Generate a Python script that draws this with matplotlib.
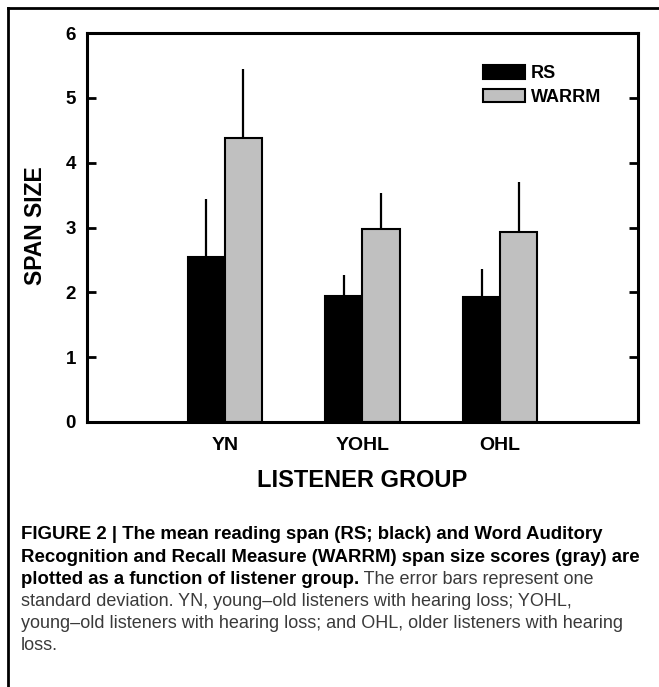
import numpy as np
import matplotlib.pyplot as plt
from matplotlib.lines import Line2D

plt.rcParams['font.family'] = ['Liberation Sans', 'DejaVu Sans']

# data
groups = ['YN', 'YOHL', 'OHL']
rs_mean = [2.55, 1.95, 1.93]
rs_sd = [0.89, 0.32, 0.43]
warrm_mean = [4.38, 2.98, 2.93]
warrm_sd = [1.07, 0.55, 0.77]

W, H = 659, 687
fig = plt.figure(figsize=(W / 100, H / 100), dpi=100)

def fx(px):
    return px / W

def fy(py):
    return 1 - py / H

ax = fig.add_axes([fx(87), fy(422), fx(638) - fx(87), fy(33) - fy(422)])

x = np.arange(1, len(groups) + 1)
w = 0.27
b1 = ax.bar(x - w / 2, rs_mean, w, color='black', edgecolor='black', linewidth=1.5, label='RS', zorder=2)
b2 = ax.bar(x + w / 2, warrm_mean, w, color='#c0c0c0', edgecolor='black', linewidth=1.5, label='WARRM', zorder=2)
ax.errorbar(x - w / 2, rs_mean, yerr=[np.zeros(3), rs_sd], fmt='none', ecolor='black',
            elinewidth=1.6, capsize=0, zorder=1)
ax.errorbar(x + w / 2, warrm_mean, yerr=[np.zeros(3), warrm_sd], fmt='none', ecolor='black',
            elinewidth=1.6, capsize=0, zorder=1)

ax.set_xlim(0, 4)
ax.set_ylim(0, 6)
ax.set_xticks(x)
ax.set_xticklabels(groups, fontsize=14, fontweight='bold')
ax.tick_params(axis='x', length=0, pad=11)
ax.set_yticks(range(7))
ax.set_yticklabels([str(i) for i in range(7)], fontsize=13.5, fontweight='bold')
ax.tick_params(axis='y', direction='in', length=6.5, width=2, right=True, pad=8)
for s in ax.spines.values():
    s.set_linewidth(2.2)

ax.set_xlabel('LISTENER GROUP', fontsize=17, fontweight='bold', labelpad=10.5)
fig.text(fx(36), fy(226), 'SPAN SIZE', rotation=90, ha='center', va='center',
         fontsize=16.5, fontweight='bold')

ax.legend(handles=[b1, b2], loc='upper left', bbox_to_anchor=(0.719, 0.917),
          frameon=False, prop={'weight': 'bold', 'size': 13}, borderaxespad=0,
          handlelength=2.33, handleheight=0.78, labelspacing=0.35, handletextpad=0.3, borderpad=0)

# outer frame (top and left edges)
fig.add_artist(Line2D([fx(8), 1], [fy(8), fy(8)], color='black', lw=2))
fig.add_artist(Line2D([fx(8), fx(8)], [fy(8), 0], color='black', lw=2))

# caption
cb = 13.4
cr = 13
gray = '#3a3a3a'
fig.text(fx(21), fy(539), 'FIGURE 2 | The mean reading span (RS; black) and Word Auditory',
         fontsize=cb, fontweight='bold', va='baseline')
fig.text(fx(21), fy(561.5), 'Recognition and Recall Measure (WARRM) span size scores (gray) are',
         fontsize=cb, fontweight='bold', va='baseline')
t3 = fig.text(fx(21), fy(583.5), 'plotted as a function of listener group.',
              fontsize=cb, fontweight='bold', va='baseline')
ax.annotate(' The error bars represent one', xy=(1, 0), xycoords=t3, va='bottom',
            fontsize=cr, color=gray, annotation_clip=False)
fig.text(fx(21), fy(606), 'standard deviation. YN, young\u2013old listeners with hearing loss; YOHL,',
         fontsize=cr, color=gray, va='baseline')
fig.text(fx(21), fy(628), 'young\u2013old listeners with hearing loss; and OHL, older listeners with hearing',
         fontsize=cr, color=gray, va='baseline')
fig.text(fx(21), fy(650), 'loss.', fontsize=cr, color=gray, va='baseline')

fig.savefig('out.png', dpi=100)
